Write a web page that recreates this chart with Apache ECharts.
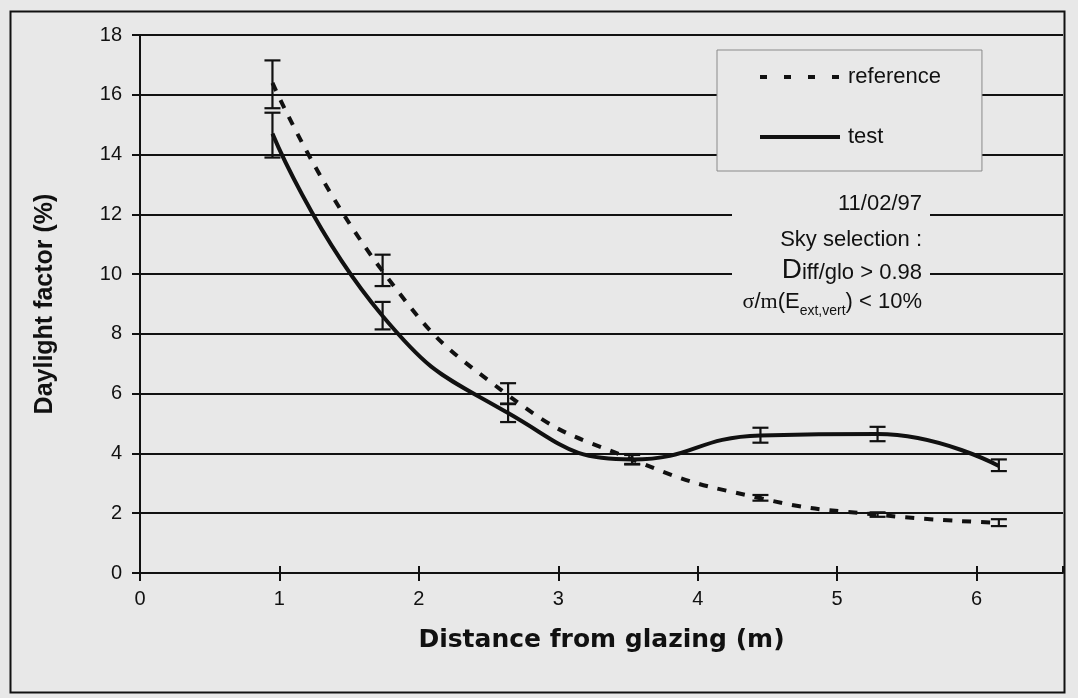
<!DOCTYPE html>
<html>
<head>
<meta charset="utf-8">
<script src="https://cdn.jsdelivr.net/npm/echarts@6/dist/echarts.min.js"></script>
<style>
  html, body { margin: 0; padding: 0; background: #e8e8e8; }
  #chart { width: 1078px; height: 698px; }
</style>
</head>
<body>
<div id="chart"></div>
<script>
// distances from glazing (m) of the measuring points
const distances = [0.95, 1.74, 2.64, 3.53, 4.45, 5.29, 6.16]
// daylight factor (%)
const referenceValues = [16.4, 10.1, 5.95, 3.8, 2.5, 1.95, 1.68]
const testValues = [14.7, 8.6, 5.35, 3.8, 4.6, 4.65, 3.58]
// error bar limits
const referenceLow = [15.55, 9.6, 5.65, 3.65, 2.42, 1.88, 1.57]
const referenceHigh = [17.15, 10.65, 6.35, 3.95, 2.61, 2.03, 1.8]
const testLow = [13.9, 8.15, 5.05, 3.63, 4.36, 4.41, 3.41]
const testHigh = [15.4, 9.07, 5.67, 3.98, 4.86, 4.89, 3.8]
const xTicks = [0, 1, 2, 3, 4, 5, 6]
const yTicks = [0, 2, 4, 6, 8, 10, 12, 14, 16, 18]

const ink = '#111'
const bg = '#e8e8e8'
const sans = 'Liberation Sans'

const pairs = (ys) => distances.map((x, i) => [x, ys[i]])
const bars = (lo, hi) => distances.map((x, i) => [x, lo[i], hi[i]])

function errorBar (params, api) {
    const x = api.value(0)
    const lo = api.coord([x, api.value(1)])
    const hi = api.coord([x, api.value(2)])
    const half = 8
    const style = { stroke: ink, lineWidth: 2.2 }
    return {
        type: 'group',
        children: [
            { type: 'line', shape: { x1: lo[0], y1: lo[1], x2: hi[0], y2: hi[1] }, style },
            { type: 'line', shape: { x1: hi[0] - half, y1: hi[1], x2: hi[0] + half, y2: hi[1] }, style },
            { type: 'line', shape: { x1: lo[0] - half, y1: lo[1], x2: lo[0] + half, y2: lo[1] }, style }
        ]
    }
}

const chart = echarts.init(document.getElementById('chart'))
const xBase = {
    type: 'value',
    min: 0,
    max: 6.62,
    interval: 1,
    splitLine: { show: false }
}
const option = {
    backgroundColor: bg,
    animation: false,
    grid: { left: 140, top: 35, right: 15, bottom: 125 },
    legend: {
        data: [
            { name: 'reference', lineStyle: { type: [7, 17] } },
            { name: 'test' }
        ],
        orient: 'vertical',
        left: 717,
        top: 50,
        padding: [16, 41, 23, 41],
        itemGap: 38,
        itemWidth: 80,
        itemHeight: 14,
        backgroundColor: bg,
        borderColor: '#8a8a8a',
        borderWidth: 1,
        borderRadius: 0,
        itemStyle: { opacity: 0 },
        lineStyle: { width: 4 },
        textStyle: { fontFamily: sans, fontSize: 22, color: ink, padding: [0, 0, 0, 3] }
    },
    xAxis: [
        Object.assign({}, xBase, {
            name: 'Distance from glazing (m)',
            nameLocation: 'middle',
            nameGap: 55,
            nameTextStyle: { fontFamily: 'DejaVu Sans', fontSize: 25, fontWeight: 'bold', color: ink },
            axisLine: { lineStyle: { color: ink, width: 2 } },
            axisTick: { length: 8, lineStyle: { color: ink, width: 2 } },
            axisLabel: {
                margin: 16,
                showMaxLabel: false,
                fontFamily: sans,
                fontSize: 20,
                color: ink,
                formatter: (v) => (xTicks.includes(v) ? String(v) : '')
            }
        }),
        Object.assign({}, xBase, {
            position: 'bottom',
            axisLine: { show: false },
            axisLabel: { show: false },
            axisTick: { inside: true, length: 7, lineStyle: { color: ink, width: 2 } }
        })
    ],
    yAxis: {
        type: 'value',
        min: 0,
        max: 18,
        interval: 2,
        name: 'Daylight factor (%)',
        nameLocation: 'middle',
        nameGap: 82,
        nameTextStyle: { fontFamily: sans, fontSize: 25, fontWeight: 'bold', color: ink },
        axisLine: { show: true, lineStyle: { color: ink, width: 2 } },
        axisTick: { show: true, length: 8, lineStyle: { color: ink, width: 2 } },
        axisLabel: {
            margin: 18,
            fontFamily: sans,
            fontSize: 20,
            color: ink,
            formatter: (v) => (yTicks.includes(v) ? String(v) : '')
        },
        splitLine: { show: true, lineStyle: { color: ink, width: 2 } }
    },
    graphic: [
        // outer frame
        {
            type: 'rect',
            left: 8,
            top: 9,
            shape: { width: 1054, height: 681 },
            style: { fill: 'none', stroke: ink, lineWidth: 2 },
            silent: true
        },
        // text box hiding the gridlines behind the notes
        {
            type: 'rect',
            left: 732,
            top: 190,
            shape: { width: 198, height: 128 },
            style: { fill: bg },
            z: 50
        },
        {
            type: 'text',
            z: 60,
            style: { x: 922, y: 204, text: '11/02/97', align: 'right', verticalAlign: 'middle', font: '22px ' + sans, fill: ink }
        },
        {
            type: 'text',
            z: 60,
            style: { x: 922, y: 240, text: 'Sky selection :', align: 'right', verticalAlign: 'middle', font: '22px ' + sans, fill: ink }
        },
        {
            type: 'text',
            z: 60,
            style: {
                x: 922,
                y: 270,
                text: '{big|D}{n|iff/glo > 0.98}',
                align: 'right',
                verticalAlign: 'middle',
                fill: ink,
                rich: {
                    big: { fontFamily: sans, fontSize: 28, color: ink, verticalAlign: 'bottom' },
                    n: { fontFamily: sans, fontSize: 22, color: ink, verticalAlign: 'bottom' }
                }
            }
        },
        {
            type: 'text',
            z: 60,
            style: {
                x: 922,
                y: 302,
                text: '{s|σ}{n|/}{s|m}{n|(E}{sub|ext,vert}{n|) < 10%}',
                align: 'right',
                verticalAlign: 'middle',
                fill: ink,
                rich: {
                    s: { fontFamily: 'Liberation Serif', fontSize: 22, color: ink, verticalAlign: 'bottom' },
                    n: { fontFamily: sans, fontSize: 22, color: ink, verticalAlign: 'bottom' },
                    sub: { fontFamily: sans, fontSize: 14, color: ink, verticalAlign: 'bottom', padding: [0, 0, -5, 0] }
                }
            }
        }
    ],
    series: [
        {
            name: 'reference',
            type: 'line',
            data: pairs(referenceValues),
            smooth: 0.5,
            symbol: 'none',
            z: 4,
            itemStyle: { color: ink },
            lineStyle: { color: ink, width: 4, type: [9, 10] }
        },
        {
            name: 'test',
            type: 'line',
            data: pairs(testValues),
            smooth: 0.5,
            symbol: 'none',
            z: 4,
            itemStyle: { color: ink },
            lineStyle: { color: ink, width: 4, type: 'solid' }
        },
        {
            name: 'reference error',
            type: 'custom',
            renderItem: errorBar,
            data: bars(referenceLow, referenceHigh),
            encode: { x: 0, y: [1, 2] },
            z: 5
        },
        {
            name: 'test error',
            type: 'custom',
            renderItem: errorBar,
            data: bars(testLow, testHigh),
            encode: { x: 0, y: [1, 2] },
            z: 5
        }
    ]
}
chart.setOption(option)
</script>
</body>
</html>
